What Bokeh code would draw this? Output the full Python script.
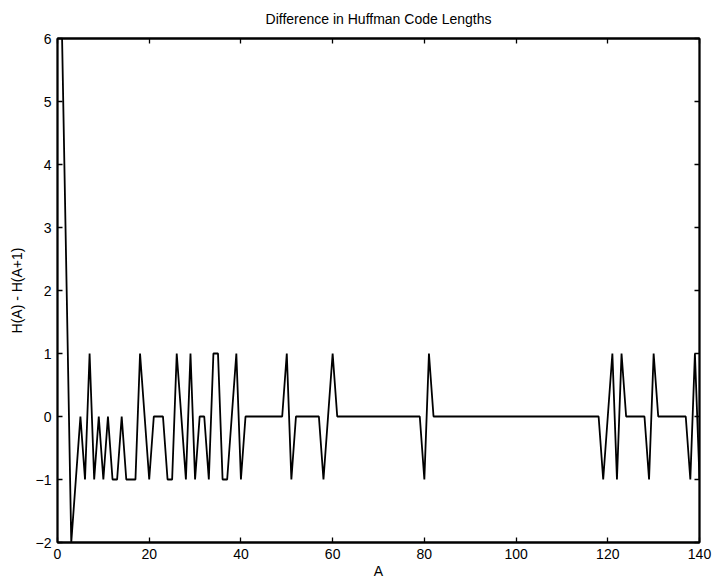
from bokeh.plotting import figure
from bokeh.models import Range1d, LinearAxis, FixedTicker
from bokeh.embed import file_html
from bokeh.resources import INLINE

# Data
a_values = list(range(1, 141))
diff_values = [
    6, 2, -2, -1, 0, -1, 1, -1, 0, -1,          # 1-10
    0, -1, -1, 0, -1, -1, -1, 1, 0, -1,         # 11-20
    0, 0, 0, -1, -1, 1, 0, -1, 1, -1,           # 21-30
    0, 0, -1, 1, 1, -1, -1, 0, 1, -1,           # 31-40
    0, 0, 0, 0, 0, 0, 0, 0, 0, 1,               # 41-50
    -1, 0, 0, 0, 0, 0, 0, -1, 0, 1,             # 51-60
    0, 0, 0, 0, 0, 0, 0, 0, 0, 0,               # 61-70
    0, 0, 0, 0, 0, 0, 0, 0, 0, -1,              # 71-80
    1, 0, 0, 0, 0, 0, 0, 0, 0, 0,               # 81-90
    0, 0, 0, 0, 0, 0, 0, 0, 0, 0,               # 91-100
    0, 0, 0, 0, 0, 0, 0, 0, 0, 0,               # 101-110
    0, 0, 0, 0, 0, 0, 0, 0, -1, 0,              # 111-120
    1, -1, 1, 0, 0, 0, 0, 0, -1, 1,             # 121-130
    0, 0, 0, 0, 0, 0, 0, -1, 1, -1,             # 131-140
]
x_ticks = [0, 20, 40, 60, 80, 100, 120, 140]
y_ticks = [-2, -1, 0, 1, 2, 3, 4, 5, 6]
y_tick_labels = {-2: "\u22122", -1: "\u22121", 0: "0", 1: "1", 2: "2",
                 3: "3", 4: "4", 5: "5", 6: "6"}

FONT = "Liberation Sans"

p = figure(width=714, height=581, output_backend="svg", toolbar_location=None,
           x_range=Range1d(0, 140), y_range=Range1d(-2, 6),
           title="Difference in Huffman Code Lengths",
           min_border_left=57, min_border_right=15,
           min_border_top=38, min_border_bottom=39)

p.line(a_values, diff_values, line_color="black", line_width=1.8)

p.grid.visible = False
p.outline_line_color = "black"
p.outline_line_width = 1.8
p.background_fill_color = "white"
p.border_fill_color = "white"

p.title.align = "center"
p.title.vertical_align = "top"
p.title.text_font = FONT
p.title.text_font_size = "14px"
p.title.text_font_style = "normal"
p.title.text_color = "black"
p.title.standoff = 20

def style_axis(ax, show_labels=True):
    ax.axis_line_color = "black"
    ax.axis_line_width = 1.8
    ax.major_tick_in = 5
    ax.major_tick_out = 0
    ax.major_tick_line_color = "black"
    ax.major_tick_line_width = 1.3
    ax.minor_tick_line_color = None
    ax.major_label_text_font = FONT
    if show_labels:
        ax.major_label_text_font_size = "14px"
        ax.major_label_text_color = "black"
    else:
        ax.major_label_text_font_size = "0px"
        ax.major_label_text_color = None
    ax.axis_label_text_font = FONT
    ax.axis_label_text_font_size = "14px"
    ax.axis_label_text_font_style = "normal"
    ax.axis_label_text_color = "black"

xax = p.xaxis[0]
yax = p.yaxis[0]
xax.ticker = FixedTicker(ticks=x_ticks)
yax.ticker = FixedTicker(ticks=y_ticks)
yax.major_label_overrides = y_tick_labels
style_axis(xax)
style_axis(yax)
xax.axis_label = "A"
yax.axis_label = "H(A) - H(A+1)"
xax.major_label_standoff = 6
xax.axis_label_standoff = 1
yax.major_label_standoff = 6
yax.axis_label_standoff = 8

top_ax = LinearAxis(ticker=FixedTicker(ticks=x_ticks))
style_axis(top_ax, show_labels=False)
top_ax.major_label_standoff = 0
right_ax = LinearAxis(ticker=FixedTicker(ticks=y_ticks))
style_axis(right_ax, show_labels=False)
right_ax.major_label_standoff = 0
p.add_layout(top_ax, "above")
p.add_layout(right_ax, "right")

open("out.html", "w").write(file_html(p, INLINE))
